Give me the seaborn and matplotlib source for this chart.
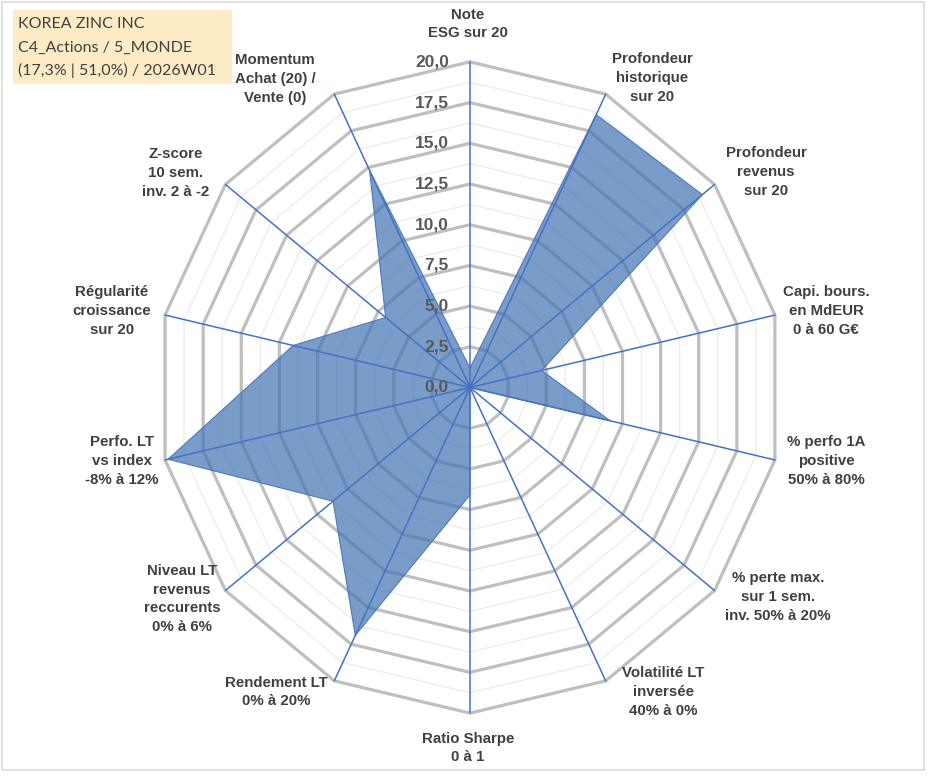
import numpy as np
import pandas as pd
import matplotlib
matplotlib.use("Agg")
import matplotlib.pyplot as plt
from matplotlib.patches import Rectangle
import seaborn as sns

# Axes of the radar, clockwise from the top
categories = [
    "Note\nESG sur 20",
    "Profondeur\nhistorique\nsur 20",
    "Profondeur\nrevenus\nsur 20",
    "Capi. bours.\nen MdEUR\n0 à 60 G€",
    "% perfo 1A\npositive\n50% à 80%",
    "% perte max.\nsur 1 sem.\ninv. 50% à 20%",
    "Volatilité LT\ninversée\n40% à 0%",
    "Ratio Sharpe\n0 à 1",
    "Rendement LT\n0% à 20%",
    "Niveau LT\nrevenus\nreccurents\n0% à 6%",
    "Perfo. LT\nvs index\n-8% à 12%",
    "Régularité\ncroissance\nsur 20",
    "Z-score\n10 sem.\ninv. 2 à -2",
    "Momentum\nAchat (20) /\nVente (0)",
]
scores = [1.2, 18.6, 19.0, 4.7, 9.2, 0.0, 0.0, 6.6, 16.9, 11.2, 19.8, 11.6, 6.9, 14.8]
ring_ticks = [0.0, 2.5, 5.0, 7.5, 10.0, 12.5, 15.0, 17.5, 20.0]
title_lines = ["KOREA ZINC INC", "C4_Actions / 5_MONDE", "(17,3% | 51,0%) / 2026W01"]

# label anchor points (pixels in the 933x776 picture)
label_pos = [(468, 24), (652, 78), (766, 172), (826, 311), (826, 461), (778, 597),
             (663, 692), (468, 748), (276, 692), (182, 599), (122, 461), (112, 311),
             (176, 173), (275, 79)]

n = len(categories)
theta = np.arange(n) * 2 * np.pi / n
rmax = 20.0

sns.set_theme(style="white")
plt.rcParams["font.family"] = ["Liberation Sans", "DejaVu Sans"]

W, H = 933, 776
fig = plt.figure(figsize=(W / 100, H / 100), dpi=100)
ax = fig.add_axes([0, 0, 1, 1])
# map data units so that the 20 ring sits where it does in the picture
cx, cy = 470.0, 387.5
sx, sy = 312.8 / rmax, 325.6 / rmax
ax.set_xlim(-cx / sx, (W - cx) / sx)
ax.set_ylim(-(H - cy) / sy, cy / sy)
ax.axis("off")


def to_data(px, py):
    return (px - cx) / sx, (cy - py) / sy


def ring(r):
    t = np.append(theta, theta[0])
    return r * np.sin(t), r * np.cos(t)


# minor rings
for r in np.arange(1.25, rmax, 2.5):
    x, y = ring(r)
    ax.plot(x, y, color="#EBEBEB", lw=0.9, zorder=1)
# major rings
for r in ring_ticks[1:]:
    x, y = ring(r)
    ax.plot(x, y, color="#BFBFBF", lw=2.3, zorder=1, solid_joinstyle="miter")

# data polygon
df = pd.DataFrame({"cat": categories, "score": scores, "theta": theta})
df["x"] = df["score"] * np.sin(df["theta"])
df["y"] = df["score"] * np.cos(df["theta"])
closed = pd.concat([df, df.iloc[:1]], ignore_index=True)
ax.fill(closed["x"], closed["y"], color="#4273B3", alpha=0.7, lw=0, zorder=2)
sns.lineplot(data=closed, x="x", y="y", sort=False, estimator=None, ax=ax,
             color="#4F79B8", lw=0.8, zorder=3)

# spokes
for t in theta:
    ax.plot([0, rmax * np.sin(t)], [0, rmax * np.cos(t)], color="#4472C4", lw=1.1, zorder=4)

# ring values on the top spoke
for v in ring_ticks:
    ax.text(-1.35, v, f"{v:.1f}".replace(".", ","), ha="right", va="center",
            fontsize=12.5, fontweight="bold", color="#595959", zorder=5)

# category labels
for lab, (px, py) in zip(categories, label_pos):
    x, y = to_data(px, py)
    ax.text(x, y, lab, ha="center", va="center", fontsize=10.8, fontweight="bold",
            color="#404040", linespacing=1.44, zorder=5)

# title box
bx0, by0 = to_data(13, 84)
bx1, by1 = to_data(232, 10)
ax.add_patch(Rectangle((bx0, by0), bx1 - bx0, by1 - by0, facecolor="#FDEBC6",
                       edgecolor="none", zorder=5))
for line, py in zip(title_lines, [24, 48, 70]):
    x, y = to_data(18, py)
    ax.text(x, y, line, ha="left", va="center", fontsize=11.5, color="#404040",
            family=["Lato", "DejaVu Sans"], zorder=6)

# chart border
fx0, fy0 = to_data(2, 770)
fx1, fy1 = to_data(924, 2)
ax.add_patch(Rectangle((fx0, fy0), fx1 - fx0, fy1 - fy0, facecolor="none",
                       edgecolor="#D9D9D9", lw=1.2, zorder=0))

fig.savefig("out.png", dpi=100)
